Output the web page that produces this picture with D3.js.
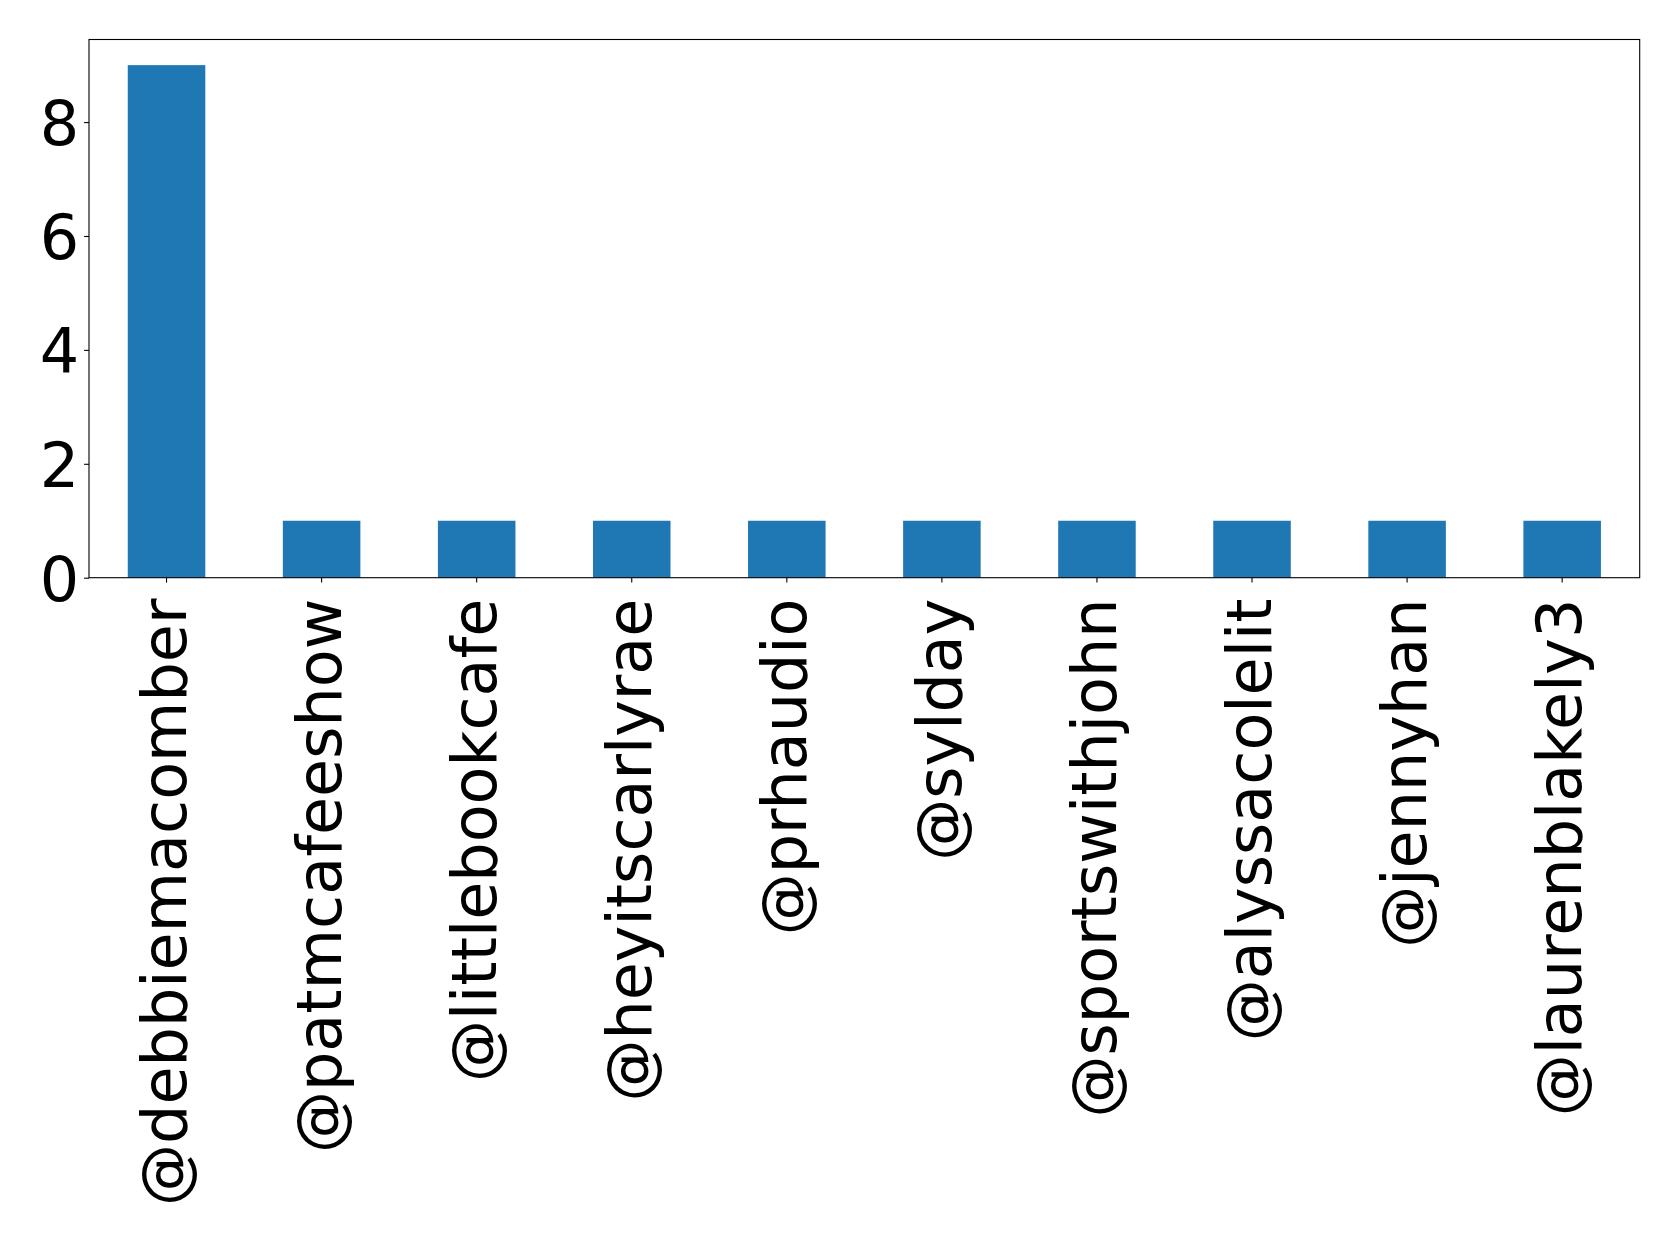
<!DOCTYPE html>
<html>
<head>
<meta charset="utf-8">
<script src="https://cdn.jsdelivr.net/npm/d3@7"></script>
<style>
  html, body { margin: 0; padding: 0; background: #fff; }
  svg { display: block; }
</style>
</head>
<body>
<svg id="chart" width="1679" height="1240"></svg>
<script>
const categories = ["@debbiemacomber", "@patmcafeeshow", "@littlebookcafe", "@heyitscarlyrae", "@prhaudio", "@sylday", "@sportswithjohn", "@alyssacolelit", "@jennyhan", "@laurenblakely3"];
const counts = [9, 1, 1, 1, 1, 1, 1, 1, 1, 1];
const yTicks = [0, 2, 4, 6, 8];

const W = 1679, H = 1240;
const margin = { left: 89, top: 39.5, right: W - 1639.7, bottom: H - 577.7 };
const iw = W - margin.left - margin.right;
const ih = H - margin.top - margin.bottom;
const fontSize = 62;
const font = "'DejaVu Sans', sans-serif";

const svg = d3.select("#chart");
const g = svg.append("g").attr("transform", `translate(${margin.left},${margin.top})`);

const x = d3.scaleBand().domain(categories).range([0, iw]).paddingInner(0.5).paddingOuter(0.25);
const y = d3.scaleLinear().domain([0, 9 * 1.05]).range([ih, 0]);

g.selectAll("rect.bar").data(categories).enter().append("rect")
  .attr("class", "bar")
  .attr("x", d => x(d))
  .attr("width", x.bandwidth())
  .attr("y", (d, i) => y(counts[i]))
  .attr("height", (d, i) => y(0) - y(counts[i]))
  .attr("fill", "#1f77b4");

// frame
g.append("rect").attr("x", 0).attr("y", 0).attr("width", iw).attr("height", ih)
  .attr("fill", "none").attr("stroke", "#000").attr("stroke-width", 1.1);

const yAxis = g.append("g").call(d3.axisLeft(y).tickValues(yTicks).tickFormat(d3.format("d")).tickSize(4.9).tickPadding(4.9));
yAxis.select(".domain").remove();
yAxis.selectAll("text").attr("font-family", font).attr("font-size", fontSize).attr("fill", "#000").attr("dy", "0.36em");
yAxis.selectAll("line").attr("stroke", "#000").attr("stroke-width", 1.1);

const xAxis = g.append("g").attr("transform", `translate(0,${ih})`)
  .call(d3.axisBottom(x).tickSize(4.9).tickPadding(4.9));
xAxis.select(".domain").remove();
xAxis.selectAll("line").attr("stroke", "#000").attr("stroke-width", 1.1);
xAxis.selectAll("text")
  .attr("font-family", font).attr("font-size", fontSize).attr("fill", "#000")
  .attr("transform", "rotate(-90)")
  .attr("text-anchor", "end")
  .attr("x", -20.8)
  .attr("y", 0)
  .attr("dy", "0.31em");
</script>
</body>
</html>
